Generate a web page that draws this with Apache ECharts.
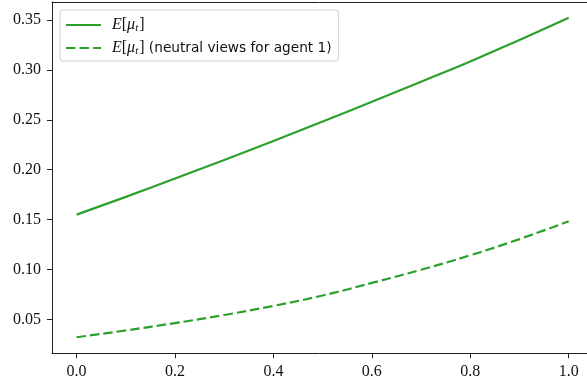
<!DOCTYPE html>
<html>
<head>
<meta charset="utf-8">
<script src="https://cdn.jsdelivr.net/npm/echarts@6/dist/echarts.min.js"></script>
<style>html,body{margin:0;padding:0;background:#fff}#c{width:587px;height:385px}</style>
</head>
<body>
<div id="c"></div>
<script>
var xValues = [0.0, 0.1, 0.2, 0.3, 0.4, 0.5, 0.6, 0.7, 0.8, 0.9, 1.0];
var meanMu = [0.155, 0.1728, 0.1912, 0.2098, 0.2288, 0.2482, 0.2680, 0.2882, 0.3085, 0.3300, 0.3522];
var meanMuNeutral = [0.0322, 0.0390, 0.0464, 0.0545, 0.0636, 0.0740, 0.0866, 0.0998, 0.1143, 0.1305, 0.1484];
var xTicks = [0.0, 0.2, 0.4, 0.6, 0.8, 1.0];
var yTicks = [0.05, 0.10, 0.15, 0.20, 0.25, 0.30, 0.35];
var seriesNames = ['E[μ_t]', 'E[μ_t] (neutral views for agent 1)'];

var green = '#2ca02c';
var axisCol = '#222';
var serif = '"Liberation Serif", "DejaVu Serif", serif';

function pairs(xs, ys) { return xs.map(function (x, i) { return [x, ys[i]]; }); }

var chart = echarts.init(document.getElementById('c'), null, {renderer: 'canvas'});
chart.setOption({
  animation: false,
  backgroundColor: '#fff',
  grid: {left: 52, right: 0, top: 2, bottom: 31.7, containLabel: false},
  xAxis: [{
    type: 'value', min: -0.05, max: 1.0372,
    axisLine: {show: true, lineStyle: {color: axisCol, width: 1}},
    axisTick: {show: true, length: 5, inside: false, customValues: xTicks, lineStyle: {color: axisCol}},
    axisLabel: {customValues: xTicks, margin: 10, color: '#111', fontFamily: serif, fontSize: 16,
      formatter: function (v) { return v.toFixed(1); }},
    splitLine: {show: false}
  }, {
    type: 'value', position: 'top', min: -0.05, max: 1.0372,
    axisLine: {show: true, onZero: false, lineStyle: {color: axisCol, width: 1}},
    axisTick: {show: false}, axisLabel: {show: false}, splitLine: {show: false}
  }],
  yAxis: {
    type: 'value', min: 0.0161, max: 0.368,
    axisLine: {show: true, onZero: false, lineStyle: {color: axisCol, width: 1}},
    axisTick: {show: true, length: 5, customValues: yTicks, lineStyle: {color: axisCol}},
    axisLabel: {customValues: yTicks, margin: 11, color: '#111', fontFamily: serif, fontSize: 16,
      formatter: function (v) { return v.toFixed(2); }},
    splitLine: {show: false}
  },
  legend: {
    orient: 'vertical', left: 60, top: 10,
    padding: [7, 7, 4, 5], itemGap: 6, itemWidth: 35, itemHeight: 18,
    backgroundColor: 'rgba(255,255,255,0.8)', borderColor: '#d0d0d0', borderWidth: 1, borderRadius: 3,
    itemStyle: {opacity: 0},
    data: seriesNames,
    formatter: function (name) {
      var base = '{e|E}{b|[}{m|μ}{s|t}{b|]}';
      return name === seriesNames[0] ? base : base + '{n| (neutral views for agent 1)}';
    },
    textStyle: {
      color: '#111', padding: [0, 0, 0, 6],
      rich: {
        e: {fontFamily: serif, fontStyle: 'italic', fontSize: 16, lineHeight: 18, color: '#111'},
        b: {fontFamily: serif, fontSize: 16, lineHeight: 18, color: '#111'},
        m: {fontFamily: serif, fontStyle: 'italic', fontSize: 16, lineHeight: 18, color: '#111'},
        s: {fontFamily: serif, fontStyle: 'italic', fontSize: 11, lineHeight: 18, verticalAlign: 'bottom', color: '#111', padding: [0, 1, 0, 0]},
        n: {fontFamily: '"DejaVu Sans", sans-serif', fontSize: 13.7, lineHeight: 18, color: '#111'}
      }
    }
  },
  series: [{
    name: seriesNames[0], type: 'line', data: pairs(xValues, meanMu),
    symbol: 'none', smooth: true, lineStyle: {color: green, width: 2.2}, itemStyle: {color: green}
  }, {
    name: seriesNames[1], type: 'line', data: pairs(xValues, meanMuNeutral),
    symbol: 'none', smooth: true, lineStyle: {color: green, width: 2.2, type: [9.5, 4]}, itemStyle: {color: green}
  }]
});
</script>
</body>
</html>
